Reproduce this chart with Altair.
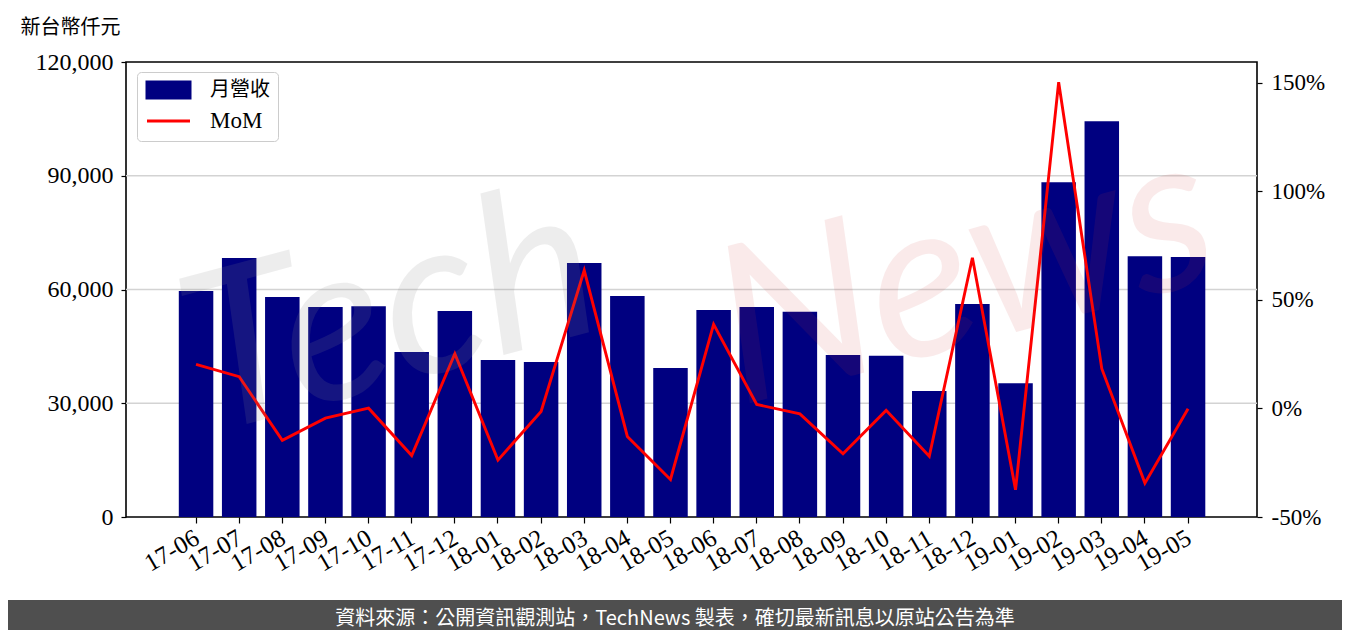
import altair as alt
import pandas as pd

months = ["17-06", "17-07", "17-08", "17-09", "17-10", "17-11", "17-12",
          "18-01", "18-02", "18-03", "18-04", "18-05", "18-06", "18-07",
          "18-08", "18-09", "18-10", "18-11", "18-12", "19-01", "19-02",
          "19-03", "19-04", "19-05"]
revenue = [59600, 68300, 58000, 55400, 55600, 43500, 54300, 41400, 40900,
           67000, 58300, 39300, 54600, 55400, 54100, 42700, 42500, 33200,
           56200, 35300, 88300, 104400, 68800, 68600]
mom = [20.3, 14.6, -14.7, -4.5, 0.1, -21.7, 25.2, -23.8, -1.4, 63.6, -12.9,
       -32.7, 38.7, 1.8, -2.5, -20.9, -0.9, -22.0, 69.4, -37.5, 150.2, 18.3,
       -34.4, -0.2]
left_ticks = [0, 30000, 60000, 90000, 120000]
grid_values = [30000, 60000, 90000]
right_ticks = [-50, 0, 50, 100, 150]
series_names = ["月營收", "MoM"]
series_colors = ["#000080", "#ff0000"]
unit_title = "新台幣仟元"
footer_text = "資料來源：公開資訊觀測站，TechNews 製表，確切最新訊息以原站公告為準"

df = pd.DataFrame({"month": months, "revenue": revenue, "mom": mom})
grid_df = pd.DataFrame({"revenue": grid_values})

SERIF = "Liberation Serif, Noto Sans CJK TC"
CJK = "Noto Sans CJK TC"
W, H = 1131, 455

x_enc = alt.X(
    "month:N", sort=months, title=None,
    scale=alt.Scale(paddingInner=0.2, paddingOuter=0, range=[52.8, 1079.3]),
    axis=alt.Axis(labelAngle=-30, labelAlign="right", labelBaseline="top",
                  labelFont=SERIF, labelFontSize=25, labelColor="black",
                  labelPadding=2, labelOffset=-5, tickSize=6, tickColor="black",
                  tickWidth=1.2, domain=False, grid=False, labelOverlap=False),
)

left_scale = alt.Scale(domain=[0, 120000], nice=False, zero=True)
left_axis = alt.Axis(values=left_ticks, format=",d", grid=False,
                     labelFont=SERIF, labelFontSize=24, labelColor="black",
                     labelPadding=8, tickSize=5, tickColor="black", tickWidth=1.2,
                     domain=False,
                     title=unit_title, titleAngle=0, titleX=-106, titleY=-35,
                     titleAlign="left", titleBaseline="middle",
                     titleFont=CJK, titleFontSize=20, titleFontWeight="normal",
                     titleColor="black")

color_enc = alt.Color(
    "series:N",
    scale=alt.Scale(domain=series_names, range=series_colors),
    legend=alt.Legend(
        title=None, orient="none", legendX=11, legendY=10,
        symbolType={"expr": "datum.label === 'MoM' ? 'M-1,0H4.375' : 'M-1,-1H4.375V1H-1Z'"},
        symbolSize=256, symbolStrokeWidth=3,
        labelFont=SERIF, labelFontSize={"expr": "datum.label === 'MoM' ? 23 : 20"},
        labelColor="black", labelOffset=45,
        rowPadding=6, padding=8, strokeColor="#cccccc", fillColor="white",
        cornerRadius=4, labelLimit=200,
    ),
)

grid = alt.Chart(grid_df).mark_rule(color="#d3d3d3", strokeWidth=1.5).encode(
    y=alt.Y("revenue:Q", scale=left_scale, axis=left_axis),
    x=alt.value(0), x2=alt.value(W),
)

bars = alt.Chart(df).transform_calculate(series="'月營收'").mark_bar().encode(
    x=x_enc,
    y=alt.Y("revenue:Q", scale=left_scale, axis=left_axis),
    color=color_enc,
)

bar_layer = alt.layer(grid, bars)

line = alt.Chart(df).transform_calculate(series="'MoM'").mark_line(strokeWidth=2.9).encode(
    x=x_enc,
    y=alt.Y("mom:Q",
            scale=alt.Scale(domain=[-50, 159.5], nice=False, zero=False),
            axis=alt.Axis(orient="right", values=right_ticks,
                          labelExpr="datum.value + '%'", grid=False,
                          labelFont=SERIF, labelFontSize=23, labelColor="black",
                          labelPadding=9, tickSize=5, tickColor="black", tickWidth=1.2,
                          domain=False, title=None)),
    color=color_enc,
)

one = alt.Data(values=[{"a": 1}])
wm_tech = alt.Chart(one).mark_text(
    text="Tech", font="Lato", fontSize=220, fontStyle="italic", fontWeight="normal",
    angle=345, color="#8c8c8c", opacity=0.15, align="center", baseline="middle",
).encode(x=alt.value(265), y=alt.value(255))
wm_news = alt.Chart(one).mark_text(
    text="News", font="Lato", fontSize=220, fontStyle="italic", fontWeight="normal",
    angle=345, color="#d03c3c", opacity=0.1, align="center", baseline="middle",
).encode(x=alt.value(840), y=alt.value(215))

footer_bg = alt.Chart(one).mark_rect(color="#4f4f4f").encode(
    x=alt.value(-130), x2=alt.value(W + 100),
    y=alt.value(538), y2=alt.value(H + 200),
)
footer_txt = alt.Chart(one).mark_text(
    text=footer_text, font=CJK, fontSize=20, color="white",
    align="center", baseline="middle",
).encode(x=alt.value(549), y=alt.value(557))

chart = alt.layer(bar_layer, line, wm_tech, wm_news, footer_bg, footer_txt).resolve_scale(
    y="independent"
).properties(
    width=W, height=H,
    autosize=alt.AutoSizeParams(type="none"),
    padding={"left": 118, "top": 54, "right": 85, "bottom": 113},
    background="white",
).configure_view(stroke="black", strokeWidth=1.6)

chart.save("out.html", embed_options={"renderer": "svg", "actions": False})
